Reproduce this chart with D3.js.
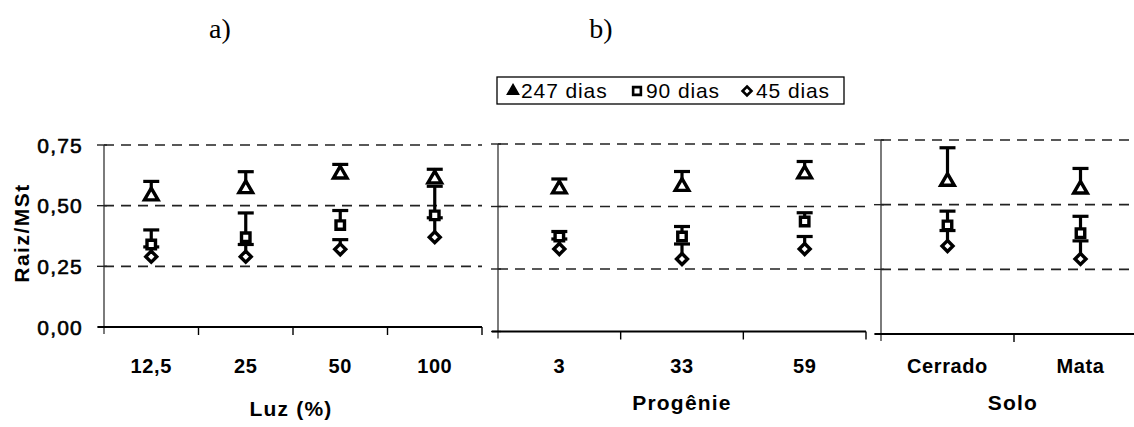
<!DOCTYPE html>
<html>
<head>
<meta charset="utf-8">
<script src="https://cdn.jsdelivr.net/npm/d3@7"></script>
<style>
  html, body { margin: 0; padding: 0; background: #fff; }
  svg { display: block; }
  text { font-family: "Liberation Sans", Arial, sans-serif; fill: #000; }
</style>
</head>
<body>
<svg id="chart" width="1134" height="427"></svg>
<script>
// Root / total dry mass ratio (Raiz/MSt) at three harvest ages
const seriesNames = ["247 dias", "90 dias", "45 dias"];
const yTicks = [0, 0.25, 0.5, 0.75];

// Luz (%)
const luzCats = ["12,5", "25", "50", "100"];
const luz247 = [0.54, 0.57, 0.63, 0.61];
const luz247Err = [0.06, 0.07, 0.04, 0.04];
const luz90 = [0.34, 0.37, 0.42, 0.46];
const luz90Err = [0.06, 0.10, 0.06, 0.12];
const luz45 = [0.29, 0.29, 0.32, 0.37];
const luz45Err = [0.04, 0.05, 0.04, 0.08];

// Progênie
const progCats = ["3", "33", "59"];
const prog247 = [0.57, 0.58, 0.63];
const prog247Err = [0.04, 0.06, 0.05];
const prog90 = [0.38, 0.38, 0.44];
const prog90Err = [0.02, 0.04, 0.035];
const prog45 = [0.33, 0.29, 0.33];
const prog45Err = [0.04, 0.06, 0.05];

// Solo
const soloCats = ["Cerrado", "Mata"];
const solo247 = [0.59, 0.56];
const solo247Err = [0.13, 0.08];
const solo90 = [0.42, 0.39];
const solo90Err = [0.055, 0.065];
const solo45 = [0.34, 0.29];
const solo45Err = [0.06, 0.07];

const svg = d3.select("#chart");

const panels = [
  { cats: luzCats, title: "Luz (%)", x0: 104, x1: 482, yBase: 327, yTop: 145, titleY: 416,
    series: [[luz247, luz247Err], [luz90, luz90Err], [luz45, luz45Err]] },
  { cats: progCats, title: "Progênie", x0: 498, x1: 866, yBase: 331.5, yTop: 144, titleY: 410,
    series: [[prog247, prog247Err], [prog90, prog90Err], [prog45, prog45Err]] },
  { cats: soloCats, title: "Solo", x0: 881, x1: 1147, yBase: 334, yTop: 140, titleY: 410,
    series: [[solo247, solo247Err], [solo90, solo90Err], [solo45, solo45Err]] }
];

// diamond drawn as a square turned 45 degrees
const squareDiamond = {
  draw(ctx, size) {
    const r = Math.sqrt(size / 2);
    ctx.moveTo(0, -r); ctx.lineTo(r, 0); ctx.lineTo(0, r); ctx.lineTo(-r, 0); ctx.closePath();
  }
};

const symbols = [
  d3.symbol().type(d3.symbolTriangle).size(80),
  d3.symbol().type(d3.symbolSquare).size(72),
  d3.symbol().type(squareDiamond).size(60)
];

panels.forEach((p, pi) => {
  const x = d3.scaleBand().domain(p.cats).range([p.x0, p.x1]);
  const y = d3.scaleLinear().domain([0, 0.75]).range([p.yBase, p.yTop]);
  const g = svg.append("g");
  const right = Math.min(p.x1, 1134);

  // dashed gridlines
  g.selectAll("line.grid").data(yTicks.filter(v => v > 0)).join("line")
    .attr("x1", p.x0).attr("x2", right)
    .attr("y1", d => y(d)).attr("y2", d => y(d))
    .attr("stroke", "#222").attr("stroke-width", 1.6)
    .attr("stroke-dasharray", "10,7");

  // y axis line and ticks
  g.append("line")
    .attr("x1", p.x0).attr("x2", p.x0)
    .attr("y1", y(0.75)).attr("y2", p.yBase + 7)
    .attr("stroke", "#444").attr("stroke-width", 1.4);
  g.selectAll("line.ytick").data(yTicks).join("line")
    .attr("x1", p.x0 - 7).attr("x2", p.x0 + 3)
    .attr("y1", d => y(d)).attr("y2", d => y(d))
    .attr("stroke", "#222").attr("stroke-width", 1.4);

  // x axis line and category boundary ticks
  g.append("line")
    .attr("x1", p.x0 - 6).attr("x2", right)
    .attr("y1", p.yBase).attr("y2", p.yBase)
    .attr("stroke", "#000").attr("stroke-width", 2);
  const bounds = p.cats.slice(1).map(c => x(c)).concat([p.x1]).filter(v => v <= 1134);
  g.selectAll("line.xtick").data(bounds).join("line")
    .attr("x1", d => d).attr("x2", d => d)
    .attr("y1", p.yBase).attr("y2", p.yBase + 8)
    .attr("stroke", "#000").attr("stroke-width", 1.4);

  // y tick labels on the first panel
  if (pi === 0) {
    g.selectAll("text.ylab").data(yTicks).join("text")
      .attr("x", p.x0 - 21).attr("y", d => y(d) + 7.5)
      .attr("text-anchor", "end")
      .attr("font-size", 21).attr("letter-spacing", 1.2)
      .attr("stroke", "#000").attr("stroke-width", 0.6)
      .text(d => d3.format(".2f")(d).replace(".", ","));
  }

  // category labels
  g.selectAll("text.xlab").data(p.cats).join("text")
    .attr("x", d => x(d) + x.bandwidth() / 2)
    .attr("y", 373)
    .attr("text-anchor", "middle")
    .attr("font-size", 20).attr("font-weight", "bold").attr("letter-spacing", 0.6)
    .text(d => d);

  // axis title
  g.append("text")
    .attr("x", (p.x0 + p.x1) / 2 + (pi === 0 ? -2 : 0) + (pi === 2 ? -1 : 0))
    .attr("y", p.titleY)
    .attr("text-anchor", "middle")
    .attr("font-size", 21).attr("font-weight", "bold").attr("letter-spacing", 1.2)
    .text(p.title);

  // error bars (upper only) below markers
  p.series.forEach(([vals, errs]) => {
    const cx = p.cats.map(c => x(c) + x.bandwidth() / 2);
    g.selectAll(null).data(vals).join("line")
      .attr("x1", (d, i) => cx[i]).attr("x2", (d, i) => cx[i])
      .attr("y1", d => y(d)).attr("y2", (d, i) => y(d + errs[i]))
      .attr("stroke", "#000").attr("stroke-width", 3.2);
    g.selectAll(null).data(vals).join("line")
      .attr("x1", (d, i) => cx[i] - 8).attr("x2", (d, i) => cx[i] + 8)
      .attr("y1", (d, i) => y(d + errs[i])).attr("y2", (d, i) => y(d + errs[i]))
      .attr("stroke", "#000").attr("stroke-width", 3.2);
  });

  // markers
  p.series.forEach(([vals], si) => {
    const cx = p.cats.map(c => x(c) + x.bandwidth() / 2);
    g.selectAll(null).data(vals).join("path")
      .attr("d", symbols[si])
      .attr("transform", (d, i) => `translate(${cx[i]},${y(d)})`)
      .attr("fill", "#fff").attr("stroke", "#000").attr("stroke-width", 3.4)
      .attr("stroke-linejoin", "miter");
  });
});

// y axis title
svg.append("text")
  .attr("transform", "translate(29,233) rotate(-90)")
  .attr("text-anchor", "middle")
  .attr("font-size", 21).attr("font-weight", "bold").attr("letter-spacing", 1.5)
  .text("Raiz/MSt");

// panel letters
[["a)", 220], ["b)", 601]].forEach(([t, cx]) => {
  svg.append("text")
    .attr("x", cx).attr("y", 38)
    .attr("text-anchor", "middle")
    .style("font-family", "'Liberation Serif', 'Times New Roman', serif")
    .attr("font-size", 28)
    .text(t);
});

// legend
const leg = svg.append("g");
leg.append("rect")
  .attr("x", 497).attr("y", 77).attr("width", 347).attr("height", 27)
  .attr("fill", "#fff").attr("stroke", "#000").attr("stroke-width", 1.3);
const legItems = [
  { sx: 513, tx: 521 },
  { sx: 637, tx: 646 },
  { sx: 747, tx: 756 }
];
const legSymbols = [
  d3.symbol().type(d3.symbolTriangle).size(55),
  d3.symbol().type(d3.symbolSquare).size(60),
  d3.symbol().type(squareDiamond).size(40)
];
seriesNames.forEach((name, i) => {
  leg.append("path")
    .attr("d", legSymbols[i])
    .attr("transform", `translate(${legItems[i].sx},91)`)
    .attr("fill", i === 0 ? "#000" : "#fff")
    .attr("stroke", "#000").attr("stroke-width", i === 0 ? 1.5 : 2.6);
  leg.append("text")
    .attr("x", legItems[i].tx).attr("y", 98)
    .attr("font-size", 21).attr("letter-spacing", 0.9)
    .text(name);
});
</script>
</body>
</html>
